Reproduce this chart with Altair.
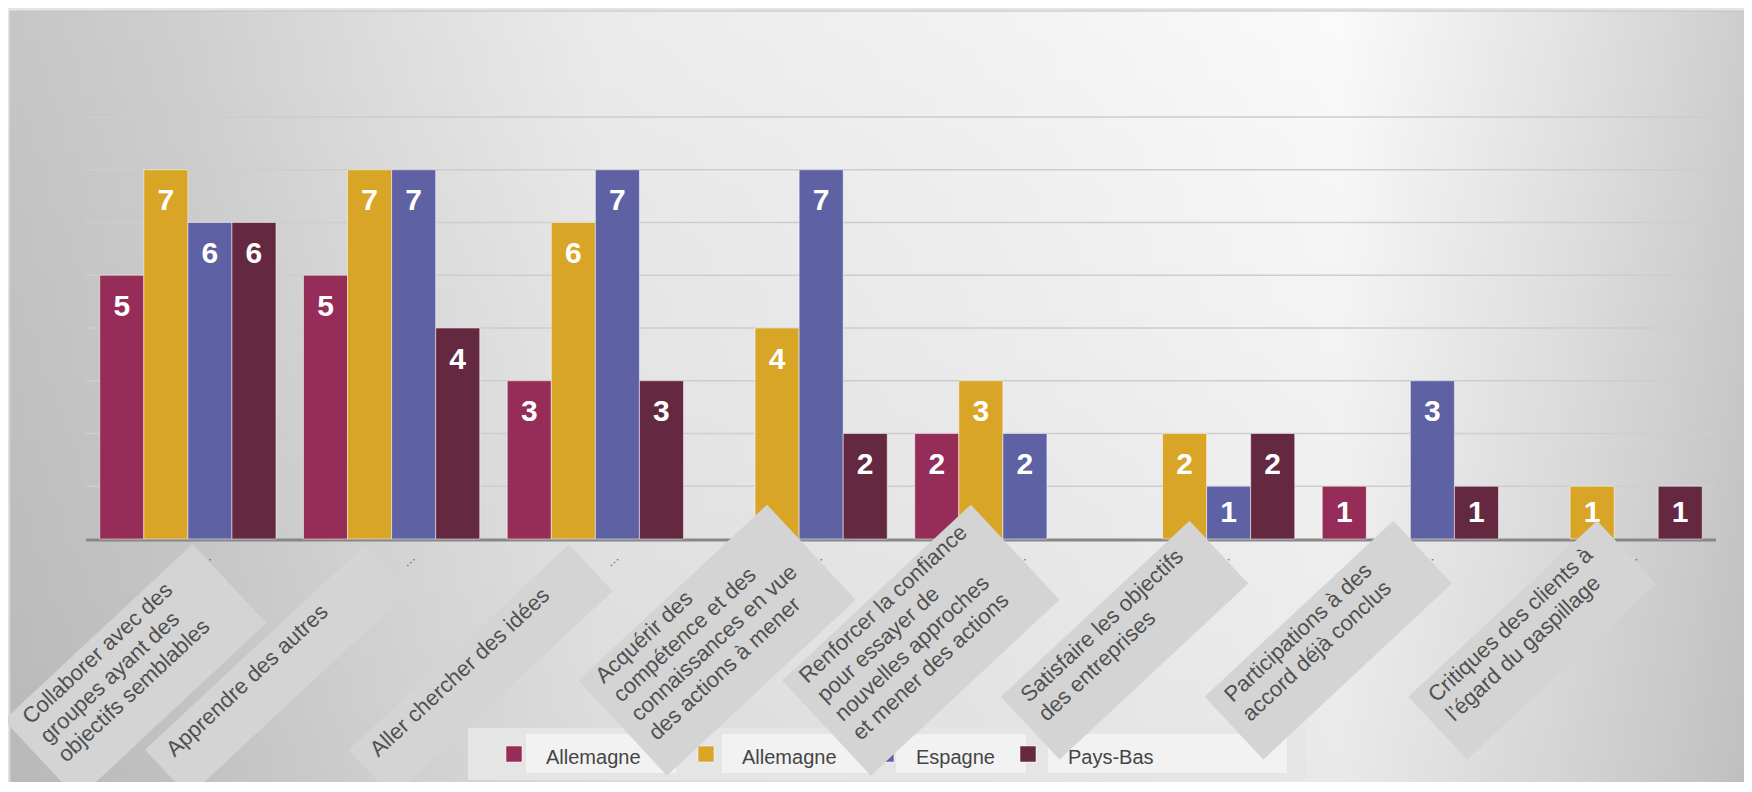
import altair as alt
import pandas as pd

# ---------------- data ----------------
categories = [
    "Collaborer avec des groupes ayant des objectifs semblables",
    "Apprendre des autres",
    "Aller chercher des idées",
    "Acquérir des compétence et des connaissances en vue des actions à mener",
    "Renforcer la confiance pour essayer de nouvelles approches et mener des actions",
    "Satisfaire les objectifs des entreprises",
    "Participations à des accord déjà conclus",
    "Critiques des clients à l’égard du gaspillage",
]
label_lines = [
    ["Collaborer avec des", "groupes ayant des", "objectifs semblables"],
    ["Apprendre des autres"],
    ["Aller chercher des idées"],
    ["Acquérir des", "compétence et des", "connaissances en vue", "des actions à mener"],
    ["Renforcer la confiance", "pour essayer de", "nouvelles approches", "et mener des actions"],
    ["Satisfaire les objectifs", "des entreprises"],
    ["Participations à des", "accord déjà conclus"],
    ["Critiques des clients à", "l’égard du gaspillage"],
]
series_keys = ["s1", "s2", "s3", "s4"]
series_names = ["Allemagne", "Allemagne", "Espagne", "Pays-Bas"]
values_s1 = [5, 5, 3, 0, 2, 0, 1, 0]
values_s2 = [7, 7, 6, 4, 3, 2, 0, 1]
values_s3 = [6, 7, 7, 7, 2, 1, 3, 0]
values_s4 = [6, 4, 3, 2, 0, 2, 1, 1]
grid_values = [1, 2, 3, 4, 5, 6, 7, 8]

# ---------------- style / layout ----------------
series_colors = ["#962d58", "#d9a527", "#5e62a4", "#652841"]
W, H = 1630, 422
FONT = "Liberation Sans"
ANGLE = 317
BOX_FILL = "#d4d4d4"
LABEL_COLOR = "#505050"
first_label_shift = 43  # the first label is pushed inward so it stays on the page

rows = []
for key, vals in zip(series_keys, [values_s1, values_s2, values_s3, values_s4]):
    for c, v in zip(categories, vals):
        rows.append({"category": c, "key": key, "value": v})
bars_df = pd.DataFrame(rows)

x_scale = alt.Scale(domain=categories, paddingInner=0.135, paddingOuter=0.0675)
y_scale = alt.Scale(domain=[0, 8], nice=False, zero=True)
color_scale = alt.Scale(domain=series_keys, range=series_colors)
X = alt.X("category:N", scale=x_scale, axis=None)
XO = alt.XOffset("key:N", scale=alt.Scale(domain=series_keys, paddingInner=0, paddingOuter=0))

one = pd.DataFrame({"k": [0]})
GS = alt.GradientStop

# background panel
panel = alt.Chart(one).mark_rect(
    fill=alt.LinearGradient(
        gradient="linear", x1=0, x2=1, y1=0, y2=0,
        stops=[GS(color="#c6c6c6", offset=0), GS(color="#cfcfcf", offset=0.1),
               GS(color="#dcdcdc", offset=0.2), GS(color="#ebebeb", offset=0.33),
               GS(color="#f2f2f2", offset=0.55), GS(color="#fafafa", offset=0.74),
               GS(color="#e4e4e4", offset=0.86), GS(color="#d3d3d3", offset=0.94),
               GS(color="#c5c5c5", offset=1)]),
    stroke="#c4c4c4", strokeWidth=1,
).encode(x=alt.value(-76), x2=alt.value(W + 90), y=alt.value(-106), y2=alt.value(H + 270))

shade = alt.Chart(one).mark_rect(
    fill=alt.LinearGradient(
        gradient="linear", x1=0, x2=0, y1=0, y2=1,
        stops=[GS(color="rgba(0,0,0,0)", offset=0), GS(color="rgba(0,0,0,0.07)", offset=1)]),
).encode(x=alt.value(-75), x2=alt.value(W + 90), y=alt.value(-105), y2=alt.value(H + 270))

grid = alt.Chart(pd.DataFrame({"g": grid_values})).mark_rule(
    color="#cdcdcd", strokeWidth=1.5
).encode(y=alt.Y("g:Q", scale=y_scale, axis=None), x=alt.value(0), x2=alt.value(W))

baseline = alt.Chart(one).mark_rule(color="#878787", strokeWidth=3).encode(
    y=alt.value(H + 1), x=alt.value(0), x2=alt.value(W)
)

bars = alt.Chart(bars_df).transform_filter("datum.value > 0").mark_bar(
    stroke="#ffffff", strokeOpacity=0.5, strokeWidth=1
).encode(
    x=X, xOffset=XO,
    y=alt.Y("value:Q", scale=y_scale, axis=None),
    color=alt.Color("key:N", scale=color_scale, legend=None),
)

value_labels = alt.Chart(bars_df).transform_filter("datum.value > 0").transform_calculate(
    ly="datum.value - min(0.6, datum.value / 2)"
).mark_text(
    color="white", font=FONT, fontSize=30, fontWeight="bold", baseline="middle", align="center"
).encode(
    x=X, xOffset=XO,
    y=alt.Y("ly:Q", scale=y_scale, axis=None),
    text="value:Q",
)

cat_df = pd.DataFrame({"category": categories})
dots = alt.Chart(cat_df).mark_text(
    text="…", angle=ANGLE, dx=-2, dy=27, fontSize=13, color="#6a6a6a", font=FONT
).encode(x=X, y=alt.value(H))

# ---------------- legend (drawn under the label boxes) ----------------
legend_swatch_x = [420, 612, 792, 934]
legend_box_x = [440, 636, 810, 962]
legend_box_w = [150, 146, 130, 239]
legend_layers = [
    alt.Chart(one).mark_rect(color="#e5e5e5").encode(
        x=alt.value(382), x2=alt.value(1220), y=alt.value(611), y2=alt.value(663))
]
for i, (key, name) in enumerate(zip(series_keys, series_names)):
    d = pd.DataFrame({"key": [key], "name": [name]})
    legend_layers.append(alt.Chart(d).mark_rect(color="#f2f2f2").encode(
        x=alt.value(legend_box_x[i]), x2=alt.value(legend_box_x[i] + legend_box_w[i]),
        y=alt.value(617), y2=alt.value(656)))
    legend_layers.append(alt.Chart(d).mark_rect(stroke="#ffffff", strokeOpacity=0.5, strokeWidth=1).encode(
        x=alt.value(legend_swatch_x[i]), x2=alt.value(legend_swatch_x[i] + 16),
        y=alt.value(629), y2=alt.value(645),
        color=alt.Color("key:N", scale=color_scale, legend=None)))
    legend_layers.append(alt.Chart(d).mark_text(
        align="left", baseline="alphabetic", fontSize=20, font=FONT, color="#454545"
    ).encode(x=alt.value(legend_box_x[i] + 20), y=alt.value(647), text="name:N"))

# ---------------- rotated category labels with their grey boxes ----------------
line_rows = []
box_rows = []
for ci, (c, lines) in enumerate(zip(categories, label_lines)):
    shift = first_label_shift if ci == 0 else 0
    n = len(lines)
    box_rows.append({"category": c, "n": n, "shift": shift})
    for i, t in enumerate(lines):
        line_rows.append({"category": c, "n": n, "i": i, "shift": shift, "line": t})
lines_df = pd.DataFrame(line_rows)
boxes_df = pd.DataFrame(box_rows)


def box_path(n, shift):
    if n == 1:
        u0, u1 = -324, -23
    else:
        u0, u1 = -258, 0
    s = 22 * n + 42
    c = 18 + shift
    v0, v1 = c - s / 2, c + s / 2
    return f"M {u0} {v0} L {u1} {v0} L {u1} {v1} L {u0} {v1} Z"


box_layers = []
for (n, shift) in sorted(set(zip(boxes_df["n"], boxes_df["shift"]))):
    box_layers.append(
        alt.Chart(boxes_df).transform_filter(
            f"datum.n == {n} && datum.shift == {shift}"
        ).mark_point(
            shape=box_path(n, shift), size=4, filled=True, fill=BOX_FILL,
            opacity=1, strokeWidth=0, angle=ANGLE
        ).encode(x=X, y=alt.value(H))
    )

text_layers = []
for (n, i, shift) in sorted(set(zip(lines_df["n"], lines_df["i"], lines_df["shift"]))):
    dx = -308 if n == 1 else -242
    dy = 5 + shift + (i - (n - 1) / 2) * 26
    text_layers.append(
        alt.Chart(lines_df).transform_filter(
            f"datum.n == {n} && datum.i == {i} && datum.shift == {shift}"
        ).mark_text(
            align="left", baseline="middle", angle=ANGLE, dx=dx, dy=dy,
            fontSize=22, font=FONT, color=LABEL_COLOR
        ).encode(x=X, y=alt.value(H), text="line:N")
    )

chart = alt.layer(
    panel, shade, grid, baseline, bars, value_labels, dots,
    *legend_layers, *box_layers, *text_layers
).properties(
    width=W, height=H,
    autosize=alt.AutoSizeParams(type="none"),
    padding={"left": 78, "top": 109, "right": 28, "bottom": 243},
    background="#e3e4e8",
).configure_view(strokeWidth=0)

chart.save("out.html", embed_options={"renderer": "svg", "actions": False})
